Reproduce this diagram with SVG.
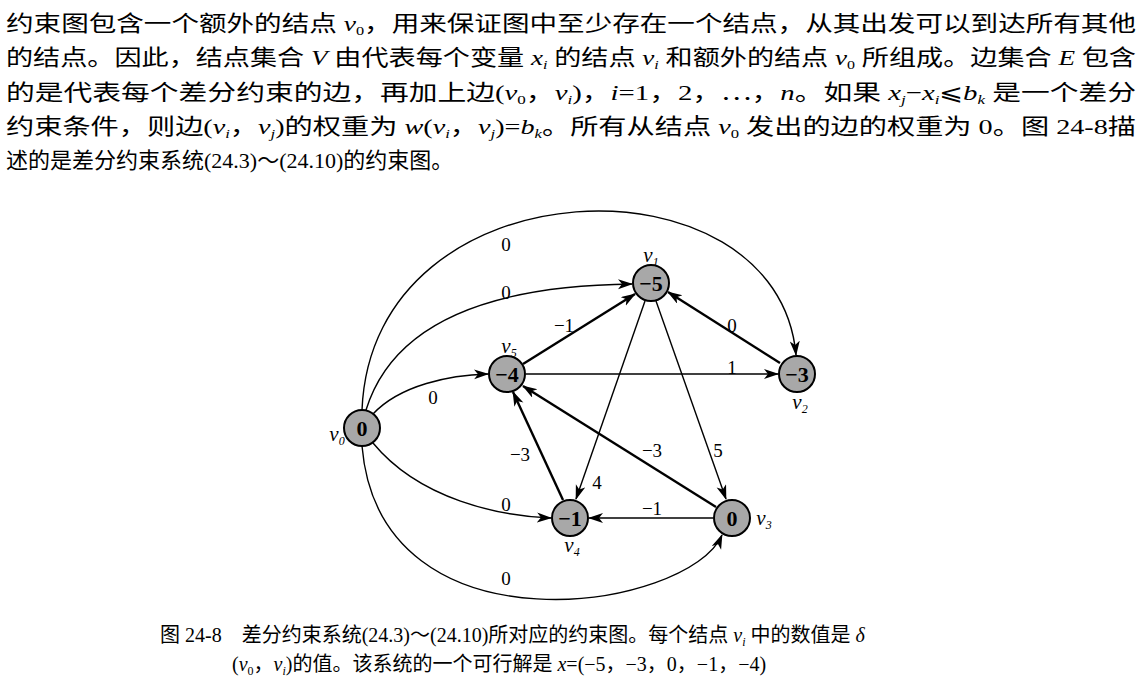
<svg xmlns="http://www.w3.org/2000/svg" width="1142" height="692" viewBox="0 0 1142 692">
<style>
.t{font-family:"Liberation Serif","Noto Sans CJK SC",serif;font-size:22px;fill:#000}
.c{font-family:"Liberation Serif","Noto Sans CJK SC",serif;font-size:20px;fill:#000}
.i{font-style:italic}
.lbl{font-family:"Liberation Serif",serif;font-size:19px;text-anchor:middle;fill:#000}
.vl{font-family:"Liberation Serif",serif;font-size:21px;font-style:italic;text-anchor:middle;fill:#000}
.nv{font-family:"Liberation Serif",serif;font-size:22px;font-weight:bold;text-anchor:middle;fill:#000}
.nd{fill:#a8a8a8;stroke:#000;stroke-width:2}
.e{fill:none;stroke:#000;stroke-width:1.4;marker-end:url(#a)}
.b{fill:none;stroke:#000;stroke-width:2.4;marker-end:url(#a)}
</style>
<defs>
<marker id="a" markerUnits="userSpaceOnUse" markerWidth="16" markerHeight="12" refX="14" refY="5" orient="auto"><path d="M0,0 L15,5 L0,10 L4,5 Z" fill="#000"/></marker>
</defs>
<rect width="1142" height="692" fill="#fff"/>
<g id="para">
<text class="t" x="6" y="31" textLength="1130" lengthAdjust="spacingAndGlyphs">约束图包含一个额外的结点 <tspan class="i">v</tspan><tspan font-size="13" dy="4">0</tspan><tspan dy="-4">，用来保证图中至少存在一个结点，从其出发可以到达所有其他</tspan></text>
<text class="t" x="6" y="65" textLength="1130" lengthAdjust="spacingAndGlyphs">的结点。因此，结点集合 <tspan class="i">V</tspan> 由代表每个变量 <tspan class="i">x</tspan><tspan class="i" font-size="13" dy="4">i</tspan><tspan dy="-4"> 的结点 </tspan><tspan class="i">v</tspan><tspan class="i" font-size="13" dy="4">i</tspan><tspan dy="-4"> 和额外的结点 </tspan><tspan class="i">v</tspan><tspan font-size="13" dy="4">0</tspan><tspan dy="-4"> 所组成。边集合 </tspan><tspan class="i">E</tspan> 包含</text>
<text class="t" x="6" y="100" textLength="1130" lengthAdjust="spacingAndGlyphs">的是代表每个差分约束的边，再加上边(<tspan class="i">v</tspan><tspan font-size="13" dy="4">0</tspan><tspan dy="-4">，</tspan><tspan class="i">v</tspan><tspan class="i" font-size="13" dy="4">i</tspan><tspan dy="-4">)，</tspan><tspan class="i">i</tspan>=1，2，⋯，<tspan class="i">n</tspan>。如果 <tspan class="i">x</tspan><tspan class="i" font-size="13" dy="4">j</tspan><tspan dy="-4">−</tspan><tspan class="i">x</tspan><tspan class="i" font-size="13" dy="4">i</tspan><tspan dy="-4">⩽</tspan><tspan class="i">b</tspan><tspan class="i" font-size="13" dy="4">k</tspan><tspan dy="-4"> 是一个差分</tspan></text>
<text class="t" x="6" y="134" textLength="1130" lengthAdjust="spacingAndGlyphs">约束条件，则边(<tspan class="i">v</tspan><tspan class="i" font-size="13" dy="4">i</tspan><tspan dy="-4">，</tspan><tspan class="i">v</tspan><tspan class="i" font-size="13" dy="4">j</tspan><tspan dy="-4">)的权重为 </tspan><tspan class="i">w</tspan>(<tspan class="i">v</tspan><tspan class="i" font-size="13" dy="4">i</tspan><tspan dy="-4">，</tspan><tspan class="i">v</tspan><tspan class="i" font-size="13" dy="4">j</tspan><tspan dy="-4">)=</tspan><tspan class="i">b</tspan><tspan class="i" font-size="13" dy="4">k</tspan><tspan dy="-4">。所有从结点 </tspan><tspan class="i">v</tspan><tspan font-size="13" dy="4">0</tspan><tspan dy="-4"> 发出的边的权重为 0。图 24-8描</tspan></text>
<text class="t" x="6" y="168">述的是差分约束系统(24.3)～(24.10)的约束图。</text>
</g>
<g id="connectors">
<path class="e" d="M362,410 C372,160 778,150 796,355"/>
<path class="e" d="M366,410 C400,300 540,285 632,284"/>
<path class="e" d="M373,414 C400,385 450,375 488,374"/>
<path class="e" d="M373,443 C420,500 500,516 551,518"/>
<path class="e" d="M362,446 C380,660 690,610 722,535"/>
<path class="b" d="M523,364 L635,294"/>
<path class="b" d="M780,363 L668,292"/>
<path class="e" d="M526,374 L778,374"/>
<path class="e" d="M645,301 L576,499"/>
<path class="e" d="M656,301 L726,499"/>
<path class="b" d="M716,507 L523,386"/>
<path class="b" d="M563,500 L513,392"/>
<path class="e" d="M713,518 L589,518"/>
</g>
<g id="edge-labels">
<text class="lbl" x="506" y="251">0</text>
<text class="lbl" x="506" y="299">0</text>
<text class="lbl" x="433" y="404">0</text>
<text class="lbl" x="506" y="511">0</text>
<text class="lbl" x="506" y="585">0</text>
<text class="lbl" x="564" y="332">−1</text>
<text class="lbl" x="732" y="332">0</text>
<text class="lbl" x="732" y="374">1</text>
<text class="lbl" x="597" y="489">4</text>
<text class="lbl" x="718" y="457">5</text>
<text class="lbl" x="652" y="457">−3</text>
<text class="lbl" x="520" y="461">−3</text>
<text class="lbl" x="652" y="515">−1</text>
</g>
<g id="v0"><circle class="nd" cx="362" cy="428" r="18"/><text class="nv" x="362" y="436">0</text><text class="vl" x="337" y="441">v<tspan font-size="12" dy="4">0</tspan></text></g>
<g id="v1"><circle class="nd" cx="651" cy="283" r="18"/><text class="nv" x="651" y="291">−5</text><text class="vl" x="651" y="262">v<tspan font-size="12" dy="4">1</tspan></text></g>
<g id="v5"><circle class="nd" cx="507" cy="374" r="18"/><text class="nv" x="507" y="382">−4</text><text class="vl" x="509" y="353">v<tspan font-size="12" dy="4">5</tspan></text></g>
<g id="v2"><circle class="nd" cx="797" cy="374" r="18"/><text class="nv" x="797" y="382">−3</text><text class="vl" x="800" y="409">v<tspan font-size="12" dy="4">2</tspan></text></g>
<g id="v4"><circle class="nd" cx="570" cy="518" r="18"/><text class="nv" x="570" y="526">−1</text><text class="vl" x="572" y="552">v<tspan font-size="12" dy="4">4</tspan></text></g>
<g id="v3"><circle class="nd" cx="732" cy="518" r="18"/><text class="nv" x="732" y="526">0</text><text class="vl" x="764" y="525">v<tspan font-size="12" dy="4">3</tspan></text></g>
<g id="caption">
<text class="c" x="160" y="642">图 24-8　差分约束系统(24.3)～(24.10)所对应的约束图。每个结点 <tspan class="i">v</tspan><tspan class="i" font-size="12" dy="4">i</tspan><tspan dy="-4"> 中的数值是 </tspan><tspan class="i">δ</tspan></text>
<text class="c" x="232" y="671">(<tspan class="i">v</tspan><tspan font-size="12" dy="4">0</tspan><tspan dy="-4">，</tspan><tspan class="i">v</tspan><tspan class="i" font-size="12" dy="4">i</tspan><tspan dy="-4">)的值。该系统的一个可行解是 </tspan><tspan class="i">x</tspan>=(−5，−3，0，−1，−4)</text>
</g>
</svg>
